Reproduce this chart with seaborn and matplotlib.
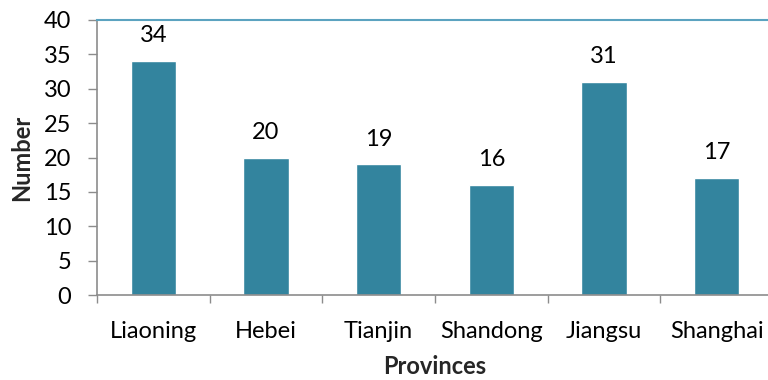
import matplotlib
matplotlib.use("Agg")
import matplotlib.pyplot as plt
import seaborn as sns
import pandas as pd

provinces = ["Liaoning", "Hebei", "Tianjin", "Shandong", "Jiangsu", "Shanghai"]
counts = [34, 20, 19, 16, 31, 17]
y_ticks = [0, 5, 10, 15, 20, 25, 30, 35, 40]

df = pd.DataFrame({"Provinces": provinces, "Number": counts})

sns.set_theme(style="white")
plt.rcParams["font.family"] = ["Lato", "DejaVu Sans"]

FS = 17

fig = plt.figure(figsize=(7.68, 3.8), dpi=100)
# plot area runs slightly past the right edge of the canvas
ax = fig.add_axes([97 / 768, 1 - 295 / 380, 676 / 768, 275 / 380])

sns.barplot(data=df, x="Provinces", y="Number", color="#33849e",
            width=0.4, saturation=1, ax=ax)

ax.set_ylim(0, 40)
ax.set_xlim(-0.5, len(provinces) - 0.5)
ax.set_yticks(y_ticks)
ax.tick_params(axis="y", labelsize=FS, length=6.5, width=1, color="#8c8c8c",
               direction="out", pad=12, left=True, labelcolor="black")
ax.set_xticks([i - 0.5 for i in range(len(provinces) + 1)], minor=True)
ax.tick_params(axis="x", which="major", length=0, labelsize=FS, pad=19,
               labelcolor="black")
ax.tick_params(axis="x", which="minor", length=6, width=1, color="#8c8c8c",
               direction="out", bottom=True)

for side in ["left", "bottom"]:
    ax.spines[side].set_color("#8c8c8c")
    ax.spines[side].set_linewidth(1.2)
for side in ["top", "right"]:
    ax.spines[side].set_color("#5ba3c0")
    ax.spines[side].set_linewidth(1.5)

for i, v in enumerate(counts):
    ax.annotate(str(v), (i, v), xytext=(0, 13.5), textcoords="offset points",
                ha="center", va="baseline", fontsize=FS, color="black")

ax.set_xlabel("")
ax.set_ylabel("")
fig.text(435 / 768, 1 - 366 / 380, "Provinces", fontsize=FS, fontweight="bold",
         ha="center", va="center")
fig.text(22 / 768, 1 - 158 / 380, "Number", fontsize=FS, fontweight="bold",
         ha="center", va="center", rotation=90)

fig.savefig("out.png", dpi=100)
